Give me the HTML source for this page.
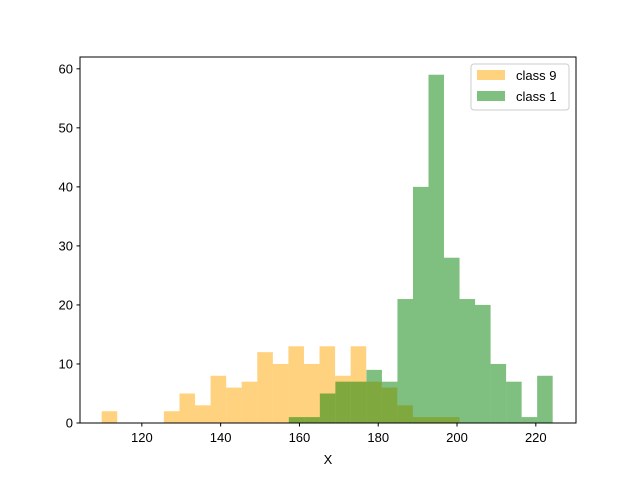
<!DOCTYPE html>
<html><head><meta charset="utf-8"><style>
body{margin:0;background:#fff}
svg text{font-family:"Liberation Sans","DejaVu Sans",sans-serif;font-size:13px;fill:#000}
</style></head><body>
<svg id="chart" width="640" height="476" viewBox="0 0 640 476" xmlns="http://www.w3.org/2000/svg">
<rect width="640" height="476" fill="#fff"/>
<g id="bars"></g>
<rect x="80" y="57" width="496" height="366" fill="none" stroke="#000" stroke-width="1"/>
<g id="axes"></g>
<text x="328" y="464" text-anchor="middle">X</text>
<g>
<rect x="471" y="64" width="98" height="46" rx="3" fill="#fff" fill-opacity="0.8" stroke="#ccc"/>
<g>
<rect x="477" y="70" width="28" height="10" fill="#ffa500" fill-opacity="0.5"/>
<text x="516" y="80">class 9</text></g>
<g>
<rect x="477" y="91" width="28" height="10" fill="#008000" fill-opacity="0.5"/>
<text x="516" y="101">class 1</text></g>
</g>
</svg>
<script>
const class9Start = 109.8;
const class9BinWidth = 3.95;
const class9Counts = [2,0,0,0,2,5,3,8,6,7,12,10,13,10,13,8,13,7,6,3,1,1,1];
const class1Start = 157.3;
const class1BinWidth = 3.94;
const class1Counts = [1,1,5,7,7,9,7,21,40,59,28,21,20,10,7,1,8];
const xTicks = [120,140,160,180,200,220];
const yTicks = [0,10,20,30,40,50,60];
const X0=104.3, X1=230.2, Y0=0, Y1=62.0;
function sx(v){return 80+(v-X0)/(X1-X0)*496;}
function sy(v){return 423-(v-Y0)/(Y1-Y0)*366;}
const NS="http://www.w3.org/2000/svg";
const bars=document.getElementById('bars');
function drawSeries(counts,start,w,color,name){
  counts.forEach((c,i)=>{
    if(c<=0)return;
    const r=document.createElementNS(NS,'rect');
    const xa=sx(start+i*w), xb=sx(start+(i+1)*w);
    r.setAttribute('x',xa);r.setAttribute('width',xb-xa);
    r.setAttribute('y',sy(c));r.setAttribute('height',sy(0)-sy(c));
    r.setAttribute('fill',color);r.setAttribute('fill-opacity','0.5');
    
    
    bars.appendChild(r);
  });
}
drawSeries(class9Counts,class9Start,class9BinWidth,'#ffa500','class-9');
drawSeries(class1Counts,class1Start,class1BinWidth,'#008000','class-1');
const axes=document.getElementById('axes');
xTicks.forEach(t=>{
  const x=sx(t);
  const l=document.createElementNS(NS,'line');
  l.setAttribute('x1',x);l.setAttribute('x2',x);l.setAttribute('y1',423);l.setAttribute('y2',426.5);l.setAttribute('stroke','#000');
  
  
  axes.appendChild(l);
  const tx=document.createElementNS(NS,'text');
  tx.setAttribute('x',x);tx.setAttribute('y',442);tx.setAttribute('text-anchor','middle');tx.textContent=t;
  
  
  axes.appendChild(tx);
});
yTicks.forEach(t=>{
  const y=sy(t);
  const l=document.createElementNS(NS,'line');
  l.setAttribute('x1',76.5);l.setAttribute('x2',80);l.setAttribute('y1',y);l.setAttribute('y2',y);l.setAttribute('stroke','#000');
  
  
  axes.appendChild(l);
  const tx=document.createElementNS(NS,'text');
  tx.setAttribute('x',73);tx.setAttribute('y',y+4.5);tx.setAttribute('text-anchor','end');tx.textContent=t;
  
  
  axes.appendChild(tx);
});
</script>
</body></html>
